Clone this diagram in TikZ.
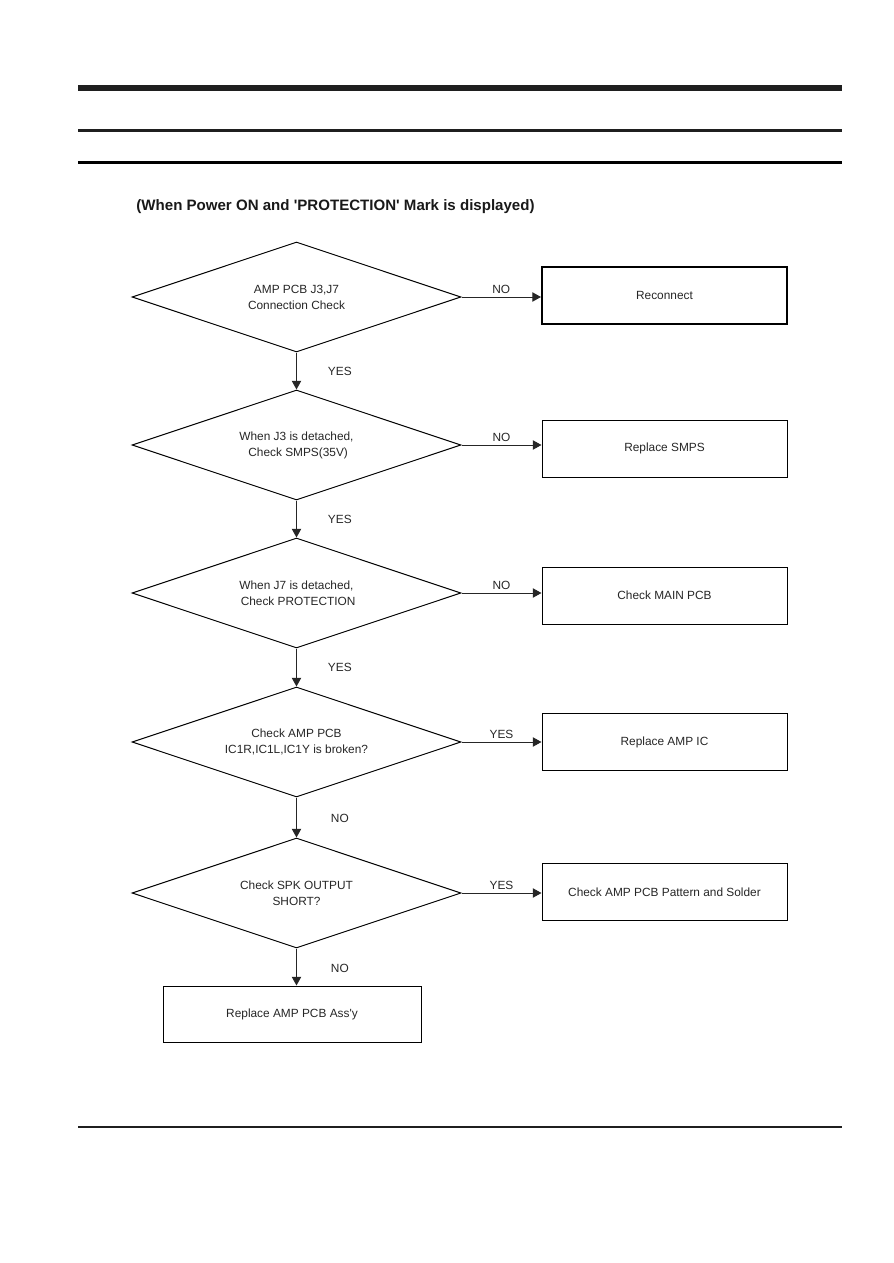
\documentclass[tikz,border=0pt]{standalone}
\usepackage{fontspec}
\setmainfont{Liberation Sans}
\usetikzlibrary{shapes.geometric,arrows.meta}
\tikzset{
  dec/.style={diamond, draw=black, line width=0.75pt, minimum width=246.75pt, minimum height=82.5pt, aspect=3, inner sep=0pt, align=center, text=black!85, font=\fontsize{8.9}{12}\selectfont},
  res/.style={rectangle, draw=black, line width=0.75pt, minimum width=183.75pt, minimum height=42.75pt, inner sep=0pt, align=center, text=black!85, font=\fontsize{8.9}{12}\selectfont},
  arr/.style={draw=black!85, line width=0.75pt, -{Triangle[length=6.5pt,width=7pt]}},
  lbl/.style={text=black!85, font=\fontsize{8.9}{12}\selectfont, inner sep=0pt},
}
\begin{document}
\begin{tikzpicture}[x=0.75pt,y=-0.75pt]
\useasboundingbox (0,0) rectangle (893,1263);
% header / footer rules
\fill[black!88] (78,85) rectangle (842,91);
\fill[black!88] (78,129) rectangle (842,132);
\fill[black] (78,161) rectangle (842,164);
\fill[black!88] (78,1126) rectangle (842,1128);
% title
\node[font=\bfseries\fontsize{11.3}{13}\selectfont, text=black!90, inner sep=0pt] (title) at (335.5,207) {(When Power ON and \textquotesingle PROTECTION\textquotesingle\ Mark is displayed)};
% decisions
\node[dec] (d1) at (296.5,297) {AMP PCB J3,J7\\Connection Check};
\node[dec] (d2) at (296.5,445) {When J3 is detached,\\\ Check SMPS(35V)};
\node[dec] (d3) at (296.5,593) {When J7 is detached,\\\ Check PROTECTION};
\node[dec] (d4) at (296.5,742) {Check AMP PCB\\IC1R,IC1L,IC1Y is broken?};
\node[dec] (d5) at (296.5,893) {Check SPK OUTPUT\\SHORT?};
% results
\node[res, line width=1.5pt] (b1) at (664.5,295.5) {Reconnect};
\node[res] (b2) at (664.5,448.5) {Replace SMPS};
\node[res] (b3) at (664.5,595.5) {Check MAIN PCB};
\node[res] (b4) at (664.5,742) {Replace AMP IC};
\node[res] (b5) at (664.5,892) {Check AMP PCB Pattern and Solder};
\node[res, minimum width=193.5pt, minimum height=42pt] (b6) at (292,1014) {Replace AMP PCB Ass\textquotesingle y};
% horizontal connectors
\draw[arr] (d1.east) -- (d1.east -| b1.west) node[lbl, midway, anchor=south, yshift=2.5pt] (l1) {NO};
\draw[arr] (d2.east) -- (d2.east -| b2.west) node[lbl, midway, anchor=south, yshift=2.5pt] (l2) {NO};
\draw[arr] (d3.east) -- (d3.east -| b3.west) node[lbl, midway, anchor=south, yshift=2.5pt] (l3) {NO};
\draw[arr] (d4.east) -- (d4.east -| b4.west) node[lbl, midway, anchor=south, yshift=2.5pt] (l4) {YES};
\draw[arr] (d5.east) -- (d5.east -| b5.west) node[lbl, midway, anchor=south, yshift=2.5pt] (l5) {YES};
% vertical connectors
\draw[arr] (d1.south) -- (d2.north) node[lbl, midway, xshift=32.5pt] (v1) {YES};
\draw[arr] (d2.south) -- (d3.north) node[lbl, midway, xshift=32.5pt] (v2) {YES};
\draw[arr] (d3.south) -- (d4.north) node[lbl, midway, xshift=32.5pt] (v3) {YES};
\draw[arr] (d4.south) -- (d5.north) node[lbl, midway, xshift=32.5pt, yshift=-1pt] (v4) {NO};
\draw[arr] (d5.south) -- (d5.south |- b6.north) node[lbl, midway, xshift=32.5pt, yshift=-1pt] (v5) {NO};
\end{tikzpicture}
\end{document}
